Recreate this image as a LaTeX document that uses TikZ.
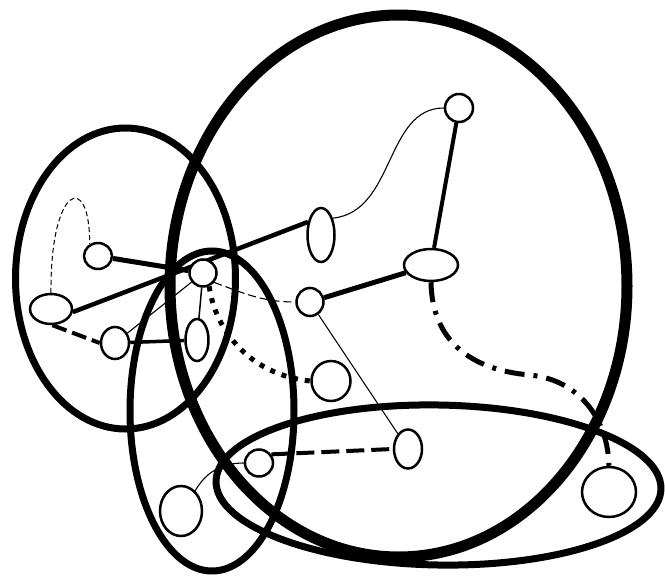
\documentclass[tikz,border=0pt]{standalone}
\usetikzlibrary{shapes.geometric,backgrounds}
\tikzset{
  vtx/.style 2 args={ellipse, draw, line width=2.5pt, fill=white, inner sep=0pt,
    minimum width=#1pt, minimum height=#2pt},
  hedge/.style={line width=7pt},
  bighedge/.style={line width=11pt},
  thinline/.style={line width=1.1pt},
}
\begin{document}
\begin{tikzpicture}[x=1pt,y=1pt]
\useasboundingbox (0,0) rectangle (665,-581);
% vertices
\node[vtx={28}{26}] (A) at (98,-256) {};
\node[vtx={42}{30}] (B) at (51,-309) {};
\node[vtx={28}{32}] (C) at (115,-343) {};
\node[vtx={27}{27}] (D) at (203,-273) {};
\node[vtx={23}{42}] (E) at (197,-340) {};
\node[vtx={27}{54}] (F) at (321,-235) {};
\node[vtx={28}{28}] (G) at (459,-108) {};
\node[vtx={54}{32}] (H) at (431,-265) {};
\node[vtx={27}{28}] (I) at (310,-302) {};
\node[vtx={39}{40}] (J) at (331,-381) {};
\node[vtx={28}{27}] (K) at (259,-463) {};
\node[vtx={28}{39}] (L) at (408,-449) {};
\node[vtx={42}{50}] (M) at (181,-511) {};
\node[vtx={54}{50}] (N) at (609,-492) {};
\begin{pgfonlayer}{background}
% hyperedges
\draw[hedge] (125.5,-278.5) ellipse [x radius=110pt, y radius=150.5pt];
\draw[bighedge] (398.5,-286) ellipse [x radius=228.5pt, y radius=271pt];
\draw[hedge] (212,-411) ellipse [x radius=82pt, y radius=160pt];
\draw[hedge,rotate around={-1:(438.5,-485)}] (438.5,-485) ellipse [x radius=222.5pt, y radius=80pt];
% edges
\draw[line width=5pt] (A) -- (D);
\draw[line width=4.5pt] (B.-8) -- (F.135);
\draw[line width=4pt, dash pattern=on 15pt off 6pt] (B.-85) -- (C.west);
\draw[line width=3.5pt] (C) -- (E);
\draw[thinline] (C) -- (D);
\draw[line width=1.5pt] (D) -- (E);
\draw[line width=1pt, dash pattern=on 5pt off 3pt] (B.north) .. controls (50,-185) and (90,-170) .. (A.125);
\draw[thinline, dash pattern=on 8pt off 4pt] (D.-40) to[out=-20,in=180] (I.west);
\draw[line width=5pt, dash pattern=on 5pt off 7pt] (D.-65) .. controls (215,-330) and (250,-375) .. (J.west);
\draw[line width=5pt] (I) -- (H);
\draw[line width=1pt] (I) -- (L);
\draw[thinline] (F.55) .. controls (395,-212) and (385,-108) .. (G.west);
\draw[line width=4pt] (G) -- (H);
\draw[line width=5pt, dash pattern=on 20pt off 9pt on 4pt off 9pt] (H.south) .. controls (432,-340) and (470,-370) .. (530,-375) .. controls (580,-380) and (608,-420) .. (N.north);
\draw[line width=4pt, dash pattern=on 18pt off 7pt] (K.35) -- (L.west);
\draw[thinline] (K.west) to[out=180,in=60] (M.55);
\end{pgfonlayer}
\end{tikzpicture}
\end{document}
